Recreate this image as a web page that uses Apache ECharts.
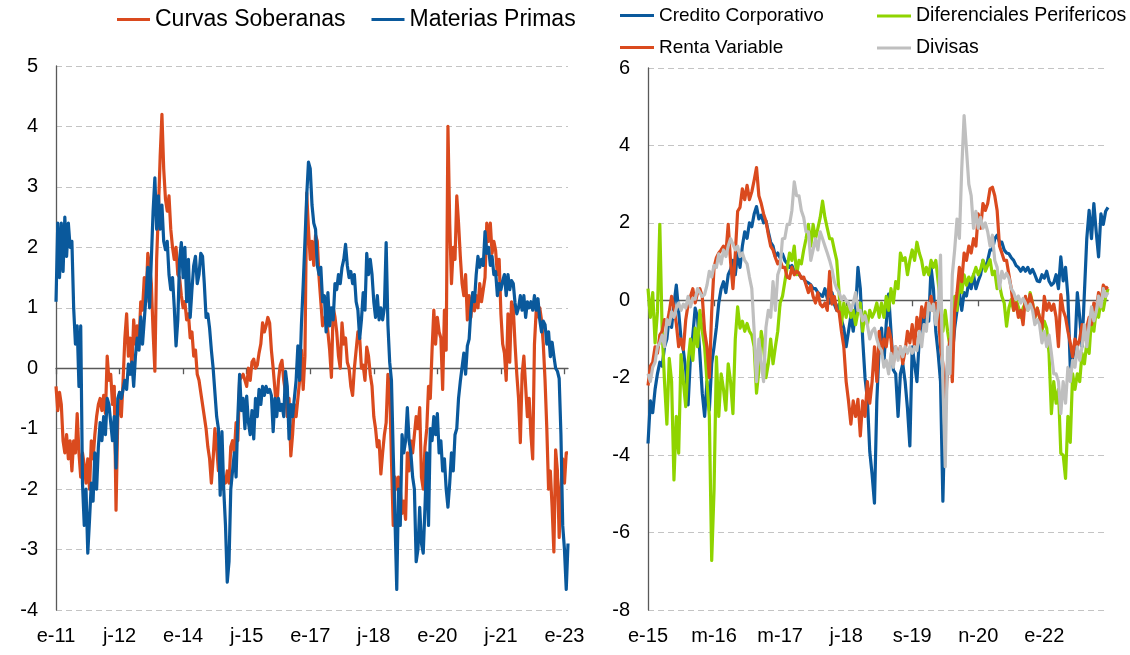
<!DOCTYPE html>
<html>
<head>
<meta charset="utf-8">
<title>Curvas y mercados</title>
<script src="https://cdn.jsdelivr.net/npm/echarts@6.0.0/dist/echarts.min.js"></script>
<style>
  html, body { margin: 0; padding: 0; background: #fff; }
  #chart { width: 1130px; height: 655px; }
</style>
</head>
<body>
<div id="chart"></div>
<script>
// values are read every half month; index * STEP = months since the first label
const STEP = 0.5;

// left panel, starts e-11
const leftTickMonths = [0, 18, 36, 54, 72, 90, 108, 126, 144];
const leftTickLabels = ["e-11", "j-12", "e-14", "j-15", "e-17", "j-18", "e-20", "j-21", "e-23"];

const curvasSoberanas = [
  -0.3, -0.7, -0.4, -0.6, -1.2, -1.4, -1.1, -1.5, -1.2, -1.7,
  -1.2, -1.4, -0.75, -1.4, -1.8, -1.4, -1.6, -1.9, -1.5, -2.0,
  -1.2, -1.5, -1.1, -0.8, -0.6, -0.5, -0.7, -0.45, -0.75, 0.2,
  -0.2, -0.1, -0.6, -0.3, -2.35, -0.8, -0.4, -0.8, -0.2, 0.5,
  0.9, 0.2, 0.5, 0.0, 0.8, 0.4, 0.7, 0.4, 1.1, 0.96,
  1.5, 1.1, 1.9, 1.7, 1.4, 0.6, -0.05, 1.8, 2.6, 3.5,
  4.2, 3.3, 2.8, 2.6, 2.85, 2.3, 2.0, 1.8, 2.0, 1.55,
  1.5, 1.2, 1.0, 1.1, 0.8, 0.9, 0.5, 0.6, 0.2, 0.3,
  -0.1, -0.2, -0.4, -0.6, -0.8, -1.0, -1.3, -1.5, -1.9, -1.5,
  -1.0, -1.3, -1.7, -1.6, -2.0, -1.8, -1.9, -1.7, -1.9, -1.3,
  -1.2, -1.4, -0.9, -1.2, -0.2, -0.15, -0.1, -0.2, -0.3, 0.0,
  -0.2, 0.1, 0.15, 0.0, 0.05, 0.25, 0.4, 0.75, 0.6, 0.7,
  0.84, 0.75, 0.3, 0.0, -0.35, -0.7, -0.2, 0.05, 0.13, -0.2,
  -0.4, -0.8, -0.5, -1.45, -1.1, -0.6, -0.8, -0.5, -0.2, 0.3,
  -0.35, 0.2, 2.9, 2.3, 1.8, 2.1, 1.7, 2.2, 2.1, 1.5,
  1.1, 0.7, 0.8, 0.9, 0.6, 0.3, -0.15, 1.0, 0.85, 0.6,
  0.2, 0.0, 0.75, 0.4, 0.5, 0.1, 0.0, -0.3, -0.45, 0.0,
  0.3, 0.6, 0.5, 0.0, 0.05, -0.2, 0.35, 0.2, -0.1, -0.3,
  -0.8, -1.0, -1.3, -1.2, -1.75, -1.4, -1.1, -0.9, -0.1, -0.35,
  -1.5, -2.6, -1.8, -2.0, -1.8, -2.0, -2.4, -2.2, -2.5, -1.4,
  -1.7, -1.2, -1.4, -1.1, -0.8, -1.0, -0.65, -1.8, -2.0, -1.3,
  -1.0, -0.3, -0.5, 0.3, 0.96, 0.4, 0.84, 0.6, 0.5, -0.35,
  0.96, 0.3, 4.0, 2.4, 1.4, 2.0, 1.8, 2.85, 2.4, 1.85,
  1.4, 1.2, 1.55, 0.8, 1.2, 0.84, 1.2, 0.95, 1.2, 1.0,
  1.4, 1.1, 1.3, 1.5, 2.4, 2.1, 2.4, 1.9, 2.1, 1.95,
  1.55, 1.8, 0.9, 0.4, 0.25, -0.2, 0.9, 0.1, 1.1, 1.0,
  0.4, -0.1, -0.5, -1.23, -0.1, 0.2, -0.3, -0.8, -0.5, -1.1,
  -1.5, 0.4, 0.96, 0.85, 1.0, 0.8, 0.4, -0.2, -1.0, -2.0,
  -1.7, -2.3, -3.04, -1.35, -1.7, -2.8, -2.0, -1.5, -1.9, -1.4,
  -1.4
];

const materiasPrimas = [
  1.1, 2.4, 1.5, 2.4, 1.6, 2.5, 1.85, 2.4, 2.0, 2.1,
  1.0, 0.4, 0.7, -0.3, 0.7, -1.9, -2.6, -2.0, -3.06, -2.5,
  -1.9, -2.2, -1.4, -2.0, -1.3, -0.9, -1.2, -0.8, -1.1, -0.5,
  -0.6, -0.9, -1.2, -0.8, -1.65, -0.5, -0.4, -0.5, -0.35, -0.2,
  -0.35, 0.07, -0.1, 0.1, -0.3, 0.2, 0.5, 0.3, 0.85, 0.4,
  0.8, 1.2, 1.67, 1.0, 1.8, 2.6, 3.15, 2.3, 2.85, 2.3,
  2.7, 2.1, 1.96, 2.1, 1.55, 1.3, 1.5, 1.0, 0.37, 0.8,
  1.8, 2.08, 1.5, 2.0, 1.1, 1.8, 0.84, 1.3, 1.7, 1.85,
  1.4, 1.55, 1.9, 1.85, 1.4, 0.84, 0.9, 0.66, 0.3, 0.0,
  -0.4, -0.8, -1.0, -2.1, -1.05, -2.0, -2.6, -3.54, -3.2, -2.0,
  -2.0, -1.4, -1.8, -0.8, -0.1, -0.7, -0.5, -1.0, -0.46, -0.9,
  -1.1, -0.7, -1.17, -0.5, -0.8, -0.35, -0.6, -0.3, -0.45, -0.3,
  -0.4, -0.35, -0.45, -1.05, -0.5, -0.8, -0.5, -0.7, -0.6, -0.8,
  -0.05, -0.3, -1.17, -0.6, -0.8, -0.5, -0.2, 0.37, -0.2, 0.72,
  1.37, 2.1, 2.85, 3.41, 3.3, 2.7, 2.4, 2.3, 1.7, 1.55,
  1.67, 1.1, 1.2, 0.6, 1.25, 0.7, 1.0, 0.8, 1.4, 1.3,
  1.55, 1.4, 1.67, 1.8, 2.05, 1.7, 1.5, 1.6, 1.4, 1.55,
  1.1, 0.96, 0.49, 0.8, 1.25, 0.96, 1.9, 1.55, 1.8, 1.55,
  1.1, 0.84, 1.2, 0.8, 1.0, 0.8, 1.0, 2.08, 0.72, 0.1,
  -0.2, -1.4, -2.5, -3.66, -2.0, -2.6, -1.1, -1.4, -1.2, -0.65,
  -1.2, -1.4, -1.8, -2.0, -3.2, -3.0, -2.3, -2.9, -3.06, -2.3,
  -1.4, -2.6, -1.0, -1.2, -0.8, -1.1, -0.75, -1.4, -1.2, -1.7,
  -1.5, -2.0, -2.3, -1.9, -1.4, -1.7, -1.1, -1.0, -0.5, -0.22,
  -0.2, 0.25, -0.1, 0.37, 0.48, 0.96, 1.25, 1.1, 1.55, 1.85,
  1.67, 1.8, 1.7, 2.26, 1.9, 2.0, 1.7, 1.85, 1.55, 1.6,
  1.2, 1.4, 1.3, 1.45, 1.55, 1.2, 1.55, 1.3, 1.45, 1.4,
  1.08, 0.9, 1.0, 1.2, 0.96, 1.2, 0.84, 1.1, 1.0, 1.1,
  0.96, 1.2, 0.96, 1.15, 0.8, 0.6, 0.78, 0.72, 0.4, 0.6,
  0.19, 0.43, 0.2, 0.0, -0.05, -0.17, -1.1, -2.6, -3.0, -3.66,
  -2.9
];

// right panel, starts e-15
const rightTickMonths = [0, 14, 28, 42, 56, 70, 84];
const rightTickLabels = ["e-15", "m-16", "m-17", "j-18", "s-19", "n-20", "e-22"];

const creditoCorporativo = [
  -3.7, -2.6, -2.9, -2.3, -1.9, -1.6, -1.7, -1.2, -1.0, -0.4,
  -0.7, -0.1, 0.39, -0.3, -1.0, -1.3, -1.8, -2.7, -1.46, -0.9,
  -0.2, -0.44, -1.4, -2.4, -3.0, -2.1, -2.84, -1.64, -1.2, -0.7,
  -0.07, 0.3, 0.48, 0.2, 0.66, 0.8, 1.03, 0.66, 1.22, 0.85,
  1.4, 1.77, 1.6, 2.0, 1.9, 2.23, 2.42, 2.1, 2.2, 2.0,
  2.05, 1.77, 1.5, 1.4, 1.13, 1.22, 1.1, 1.2, 1.03, 0.95,
  0.85, 0.9, 0.75, 0.8, 0.66, 0.6, 0.55, 0.48, 0.45, 0.4,
  0.3, 0.3, 0.2, 0.15, 0.1, 0.3, 0.05, -0.07, 0.2, -0.1,
  -0.26, -0.1, -0.5, -0.72, -1.2, -0.8, -0.4, -0.8, -0.26, 0.85,
  0.3, -1.0, -2.0, -2.56, -3.9, -4.5, -5.24, -2.6, -1.2, -0.72,
  -1.64, -0.6, 0.16, -0.8, -1.8, -1.9, -3.0, -1.9, -1.64, -2.1,
  -2.8, -3.76, -1.2, -1.64, -2.1, -1.0, -0.44, -0.7, -0.26, -0.54,
  0.85, 0.3, -0.8, -1.37, -2.1, -5.19, -2.56, -1.64, -1.0, -1.4,
  -0.72, -0.26, 0.2, -0.26, 0.2, 0.11, 0.48, 0.3, 0.66, 0.3,
  0.5, 0.66, 1.03, 0.8, 1.03, 1.3, 1.3, 1.59, 1.68, 1.5,
  1.5, 1.3, 1.22, 1.2, 1.1, 1.03, 0.9, 0.85, 0.75, 0.85,
  0.75, 0.85, 0.7, 0.8, 0.66, 0.5, 0.48, 0.66, 0.57, 0.75,
  0.5, 0.39, 0.45, 0.66, 0.3, 1.12, 0.5, 0.85, 0.1, -1.73,
  -1.5, -1.2, 0.2, -0.44, -1.2, 0.2, 1.59, 2.32, 1.59, 2.5,
  1.77, 1.12, 2.23, 1.96, 2.3, 2.4
];

const diferencialesPerifericos = [
  0.3, -0.44, 0.2, -1.1, -0.3, 1.96, -0.8, -2.1, -3.2, -1.5,
  -2.1, -4.64, -3.0, -3.95, -1.4, -2.1, -2.75, -1.6, -1.0, -1.55,
  -0.72, -1.2, -0.26, -0.8, -1.2, -2.1, -3.0, -6.72, -4.9, -1.46,
  -3.0, -1.9, -2.3, -2.84, -1.64, -2.1, -2.93, -1.0, -0.17, -0.72,
  -0.54, -0.8, -0.6, -0.8, -0.9, -1.2, -2.4, -1.8, -0.8, -1.2,
  -2.0, -1.64, -1.0, -1.64, -1.2, -0.8, -0.07, 0.1, 0.48, 0.85,
  1.22, 1.03, 1.4, 0.66, 1.03, 0.94, 1.3, 1.59, 1.96, 1.4,
  1.96, 1.59, 1.86, 2.14, 2.56, 2.14, 1.86, 1.59, 1.59, 1.3,
  1.03, 0.2, -0.63, -0.07, -0.44, -0.07, -0.44, -0.26, -0.63, -0.3,
  -0.07, -0.8, -0.3, -0.63, -0.26, -0.44, -0.3, -0.07, -0.44, -0.07,
  -0.44, 0.1, -0.26, 0.3, -0.07, 0.48, 0.3, 1.22, 1.03, 1.1,
  0.66, 1.03, 1.3, 1.03, 1.5, 1.22, 1.03, 0.66, 0.85, 0.66,
  1.03, 0.85, 1.03, 0.48, -0.07, -0.8, -0.26, -0.8, -1.2, -0.9,
  0.1, -0.26, 0.48, 0.2, 0.66, 0.39, 0.6, 0.48, 0.66, 0.85,
  0.66, 0.8, 1.03, 0.75, 0.9, 1.05, 0.66, 0.75, 0.3, 0.39,
  0.1, -0.07, -0.67, -0.2, 0.02, -0.26, 0.02, -0.17, -0.44, -0.2,
  -0.07, -0.26, 0.2, -0.07, -0.44, -0.2, -0.44, -0.8, -0.54, -0.72,
  -1.37, -2.93, -2.1, -2.66, -2.3, -3.95, -4.0, -4.6, -3.0, -3.67,
  -1.9, -2.3, -1.9, -2.1, -1.37, -1.64, -1.1, -1.37, -0.44, -0.8,
  -0.26, -0.44, 0.0, -0.26, 0.1, 0.3
];

const rentaVariable = [
  -2.2, -1.7, -1.6, -1.2, -1.37, -0.9, -0.8, -0.5, -0.63, -0.3,
  0.1, -0.2, -0.6, -1.2, -1.0, -1.27, -0.5, -0.1, 0.1, 0.3,
  -0.07, 0.2, 0.3, 0.1, -0.8, -1.2, -2.0, -0.3, 0.85, 1.1,
  1.22, 1.3, 1.4, 1.2, 1.96, 1.0, 0.3, 1.2, 2.3, 2.4,
  2.88, 2.6, 2.97, 2.6, 2.8, 3.1, 3.43, 2.7, 2.5, 2.23,
  2.05, 1.7, 1.4, 1.3, 1.1, 0.94, 1.03, 0.85, 0.85, 0.6,
  0.57, 0.85, 0.66, 0.75, 0.7, 0.57, 0.6, 0.4, 0.2, 0.39,
  0.1, -0.07, 0.2, -0.1, -0.17, -0.07, -0.26, 0.75, -0.1, 0.1,
  -0.26, -0.3, -0.8, -1.2, -2.1, -2.6, -3.2, -2.6, -3.0, -2.56,
  -3.5, -2.6, -3.0, -2.1, -2.66, -2.1, -1.2, -2.1, -0.8, -1.37,
  -1.0, -1.2, -0.72, -1.0, -1.64, -1.2, -1.46, -1.2, -1.64, -1.3,
  -0.8, -1.1, -0.63, -1.2, -0.44, -0.8, -0.17, -0.44, -0.07, -0.26,
  0.1, -0.26, -0.07, -0.26, -1.2, -1.64, -3.0, -1.64, -1.0, -2.1,
  -0.26, 0.2, 0.85, 0.48, 1.22, 1.03, 1.4, 1.22, 1.59, 1.4,
  2.23, 1.86, 2.5, 2.32, 2.5, 2.88, 2.92, 2.7, 2.32, 1.4,
  1.22, 1.03, 1.03, 0.66, 0.3, -0.26, -0.07, -0.44, -0.26, -0.63,
  0.1, -0.17, 0.15, -0.07, -0.44, -0.2, -0.44, -0.72, 0.1, -0.26,
  -0.07, -0.26, -0.1, -0.44, -1.2, 0.15, -0.26, -0.44, -0.8, -1.1,
  -1.46, -1.0, -1.2, -1.0, -0.63, -1.0, -0.7, -0.44, -0.63, -0.07,
  -0.26, 0.2, -0.07, 0.39, 0.3, 0.35
];

const divisas = [
  -1.9, -2.1, -1.73, -1.6, -1.2, -1.1, -0.9, -1.2, -0.5, -0.63,
  -0.3, -0.44, -0.2, -0.07, -0.26, -0.1, -0.2, 0.1, -0.17, 0.05,
  0.03, 0.3, 0.2, 0.1, 0.15, 0.39, 0.75, 0.6, 0.9, 0.85,
  1.2, 0.94, 1.3, 1.13, 1.4, 1.59, 1.45, 1.3, 1.4, 1.13,
  1.22, 1.03, 0.94, 0.6, 0.3, -0.8, -2.1, -1.0, -1.64, -2.1,
  -0.7, -0.26, -0.44, 0.48, -0.26, 0.66, 0.85, 1.59, 1.6, 1.96,
  1.96, 2.32, 3.06, 2.7, 2.7, 2.32, 2.14, 1.77, 1.77, 1.03,
  1.3, 1.59, 1.3, 1.77, 1.59, 1.4, 1.22, 1.03, 0.8, 0.48,
  0.3, 0.2, 0.02, 0.11, 0.0, -0.07, -0.26, -0.07, 0.2, -0.26,
  -0.26, -0.53, -0.4, -0.63, -1.0, -0.8, -0.72, -1.0, -1.2, -1.3,
  -1.73, -1.55, -1.9, -1.37, -1.73, -1.2, -1.55, -1.2, -1.46, -1.2,
  -1.37, -1.2, -1.37, -1.2, -1.3, -0.8, -1.2, -0.63, -0.8, -0.07,
  -0.26, -0.1, -0.63, -0.26, 1.17, -2.1, -4.3, -1.2, -1.9, 0.66,
  1.3, 2.1, 1.6, 3.4, 4.77, 3.9, 3.0, 2.7, 1.86, 2.3,
  1.86, 2.14, 1.86, 2.0, 1.77, 1.4, 1.68, 1.03, 0.85, 0.3,
  0.75, 0.57, 0.7, 0.57, 0.3, 0.2, 0.02, 0.11, -0.07, 0.05,
  -0.07, -0.26, -0.1, -0.26, -0.63, -0.5, -0.63, -1.1, -0.8, -1.2,
  -0.9, -1.37, -1.9, -1.9, -2.1, -2.93, -2.1, -2.66, -1.73, -2.1,
  -1.55, -1.73, -1.2, -1.55, -1.2, -0.63, -1.2, -0.63, -0.17, -0.53,
  -0.3, 0.11, -0.17, 0.3, 0.1, 0.2
];

const FONT = "'Liberation Sans', Arial, sans-serif";
const ORANGE = "#DA4A1E";
const BLUE = "#0A599C";
const GREEN = "#8FD400";
const GRAY = "#BFBFBF";
const AXIS = "#595959";

const toPoints = (values) => values.map((v, i) => [i * STEP, v]);

const labelAxis = (gridIndex, max, ticks, labels) => ({
  type: "value",
  gridIndex,
  position: "bottom",
  min: 0,
  max,
  axisLine: { show: false, onZero: false },
  axisTick: { show: false },
  splitLine: { show: false },
  axisLabel: {
    customValues: ticks,
    formatter: (v) => labels[ticks.indexOf(v)] || "",
    fontFamily: FONT,
    fontSize: 20,
    color: "#000",
    margin: 16
  }
});

const zeroAxis = (gridIndex, max, ticks) => ({
  type: "value",
  gridIndex,
  position: "bottom",
  min: 0,
  max,
  axisLine: { show: true, onZero: true, lineStyle: { color: AXIS, width: 1.3 } },
  axisTick: { show: true, customValues: ticks, length: 6, lineStyle: { color: AXIS, width: 1.3 } },
  axisLabel: { show: false },
  splitLine: { show: false }
});

const valueAxis = (gridIndex, min, max, interval) => ({
  type: "value",
  gridIndex,
  min,
  max,
  interval,
  axisLine: { show: true, onZero: false, lineStyle: { color: AXIS, width: 1.3 } },
  axisTick: { show: false },
  axisLabel: { fontFamily: FONT, fontSize: 20, color: "#000", margin: 18 },
  splitLine: { show: true, lineStyle: { color: "#C4C4C4", width: 1, type: [6, 4] } }
});

const line = (name, values, color, xAxisIndex, yAxisIndex) => ({
  name,
  type: "line",
  data: toPoints(values),
  xAxisIndex,
  yAxisIndex,
  showSymbol: false,
  color,
  lineStyle: { color, width: 3.2, join: "round" },
  emphasis: { disabled: true }
});

const legendItem = (name, left, top, fontSize, width) => ({
  data: [name],
  left,
  top,
  padding: 0,
  icon: "rect",
  itemWidth: width,
  itemHeight: 3,
  textStyle: { fontFamily: FONT, fontSize, color: "#000" }
});

const chart = echarts.init(document.getElementById("chart"));
chart.setOption({
  animation: false,
  backgroundColor: "#fff",
  legend: [
    { ...legendItem("Curvas Soberanas", 117, 8, 23, 33), data: ["Curvas Soberanas", "Materias Primas"], itemGap: 26 },
    legendItem("Credito Corporativo", 620, 6, 19, 34),
    legendItem("Diferenciales Perifericos", 877, 6, 19.5, 34),
    legendItem("Renta Variable", 620, 38, 19, 34),
    legendItem("Divisas", 877, 38, 19.5, 34)
  ],
  grid: [
    { left: 56, top: 66, width: 512, height: 544 },
    { left: 648, top: 68, width: 460, height: 542 }
  ],
  xAxis: [
    labelAxis(0, 145, leftTickMonths, leftTickLabels),
    zeroAxis(0, 145, leftTickMonths),
    labelAxis(1, 97.5, rightTickMonths, rightTickLabels),
    zeroAxis(1, 97.5, rightTickMonths)
  ],
  yAxis: [
    valueAxis(0, -4, 5, 1),
    valueAxis(1, -8, 6, 2)
  ],
  series: [
    line("Curvas Soberanas", curvasSoberanas, ORANGE, 0, 0),
    line("Materias Primas", materiasPrimas, BLUE, 0, 0),
    line("Credito Corporativo", creditoCorporativo, BLUE, 2, 1),
    line("Diferenciales Perifericos", diferencialesPerifericos, GREEN, 2, 1),
    line("Renta Variable", rentaVariable, ORANGE, 2, 1),
    line("Divisas", divisas, GRAY, 2, 1)
  ]
});
</script>
</body>
</html>
